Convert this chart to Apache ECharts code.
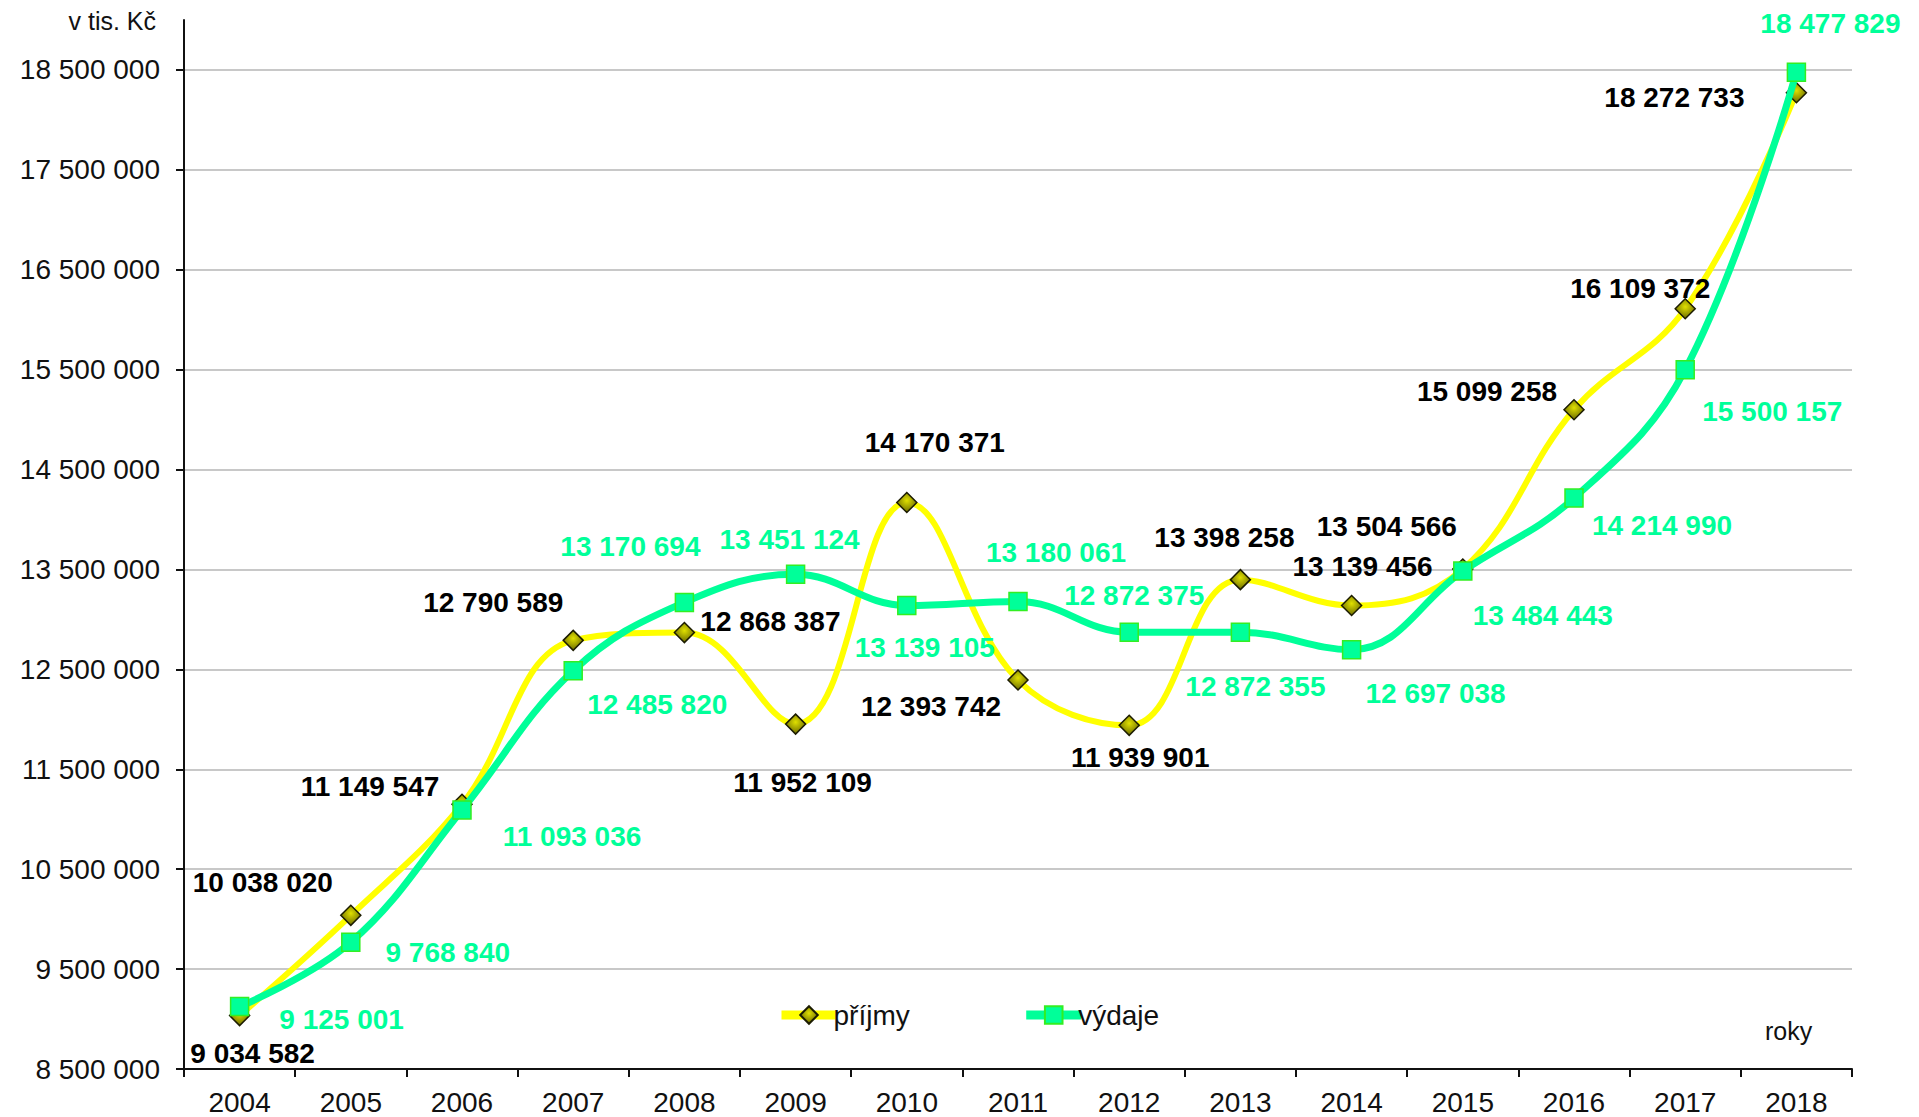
<!DOCTYPE html>
<html>
<head>
<meta charset="utf-8">
<title>příjmy a výdaje</title>
<script src="https://cdn.jsdelivr.net/npm/echarts@6/dist/echarts.min.js"></script>
<style>
  html, body { margin: 0; padding: 0; background: #fff; }
  #chart { width: 1919px; height: 1117px; }
</style>
</head>
<body>
<div id="chart"></div>
<script>
// data (v tis. Kč)
const years = ['2004', '2005', '2006', '2007', '2008', '2009', '2010', '2011', '2012', '2013', '2014', '2015', '2016', '2017', '2018'];
const prijmy = [9034582, 10038020, 11149547, 12790589, 12868387, 11952109, 14170371, 12393742, 11939901, 13398258, 13139456, 13504566, 15099258, 16109372, 18272733];
const vydaje = [9125001, 9768840, 11093036, 12485820, 13170694, 13451124, 13139105, 13180061, 12872375, 12872355, 12697038, 13484443, 14214990, 15500157, 18477829];
const yTicks = [8500000, 9500000, 10500000, 11500000, 12500000, 13500000, 14500000, 15500000, 16500000, 17500000, 18500000];

// where each value label sits relative to its point (px)
const prijmyLabelOffsets = [[13, 38], [-88, -33], [-92, -18], [-80, -38], [86, -11], [7, 58], [28, -60], [-87, 27], [11, 32], [-16, -42], [11, -39], [-76, -43], [-87, -18], [-45, -20], [-122, 5]];
const vydajeLabelOffsets = [[102, 13], [97, 10], [110, 27], [84, 34], [-54, -56], [-6, -35], [18, 42], [38, -49], [5, -37], [15, 54], [84, 44], [80, 44], [88, 27], [87, 42], [34, -49]];

const fmt = v => String(v).replace(/\B(?=(\d{3})+(?!\d))/g, ' ');
const FONT = 'Liberation Sans, Arial, sans-serif';
const GREEN = '#00ff99';

let myChart = echarts.init(document.getElementById('chart'), null, { renderer: 'svg' });
let option;

option = {
  animation: false,
  backgroundColor: '#fff',
  grid: { left: 184, right: 67, top: 20, bottom: 48 },
  legend: {
    left: 772,
    top: 996,
    itemWidth: 55,
    itemHeight: 22,
    itemGap: 112,
    lineStyle: { width: 9 },
    textStyle: { fontFamily: FONT, fontSize: 28, color: '#111', padding: [0, 0, 0, -8] },
    data: ['příjmy', 'výdaje']
  },
  xAxis: {
    type: 'category',
    data: years,
    boundaryGap: true,
    axisLine: { lineStyle: { color: '#111', width: 2 } },
    axisTick: { show: true, length: 8, lineStyle: { color: '#111', width: 2 } },
    axisLabel: { fontFamily: FONT, fontSize: 28, color: '#111', margin: 19 },
    splitLine: { show: false }
  },
  yAxis: {
    type: 'value',
    min: 8500000,
    max: 19000000,
    axisLine: { show: true, lineStyle: { color: '#111', width: 2 } },
    axisTick: { show: true, length: 8, customValues: yTicks, lineStyle: { color: '#111', width: 2 } },
    axisLabel: { customValues: yTicks, fontFamily: FONT, fontSize: 28, color: '#111', margin: 24, formatter: fmt },
    splitLine: { show: true, lineStyle: { color: '#c8c8c8', width: 2 } }
  },
  graphic: [
    { type: 'text', right: 1919 - 156, top: 8, style: { text: 'v tis. Kč', font: '25px ' + FONT, fill: '#111' } },
    { type: 'text', left: 1765, top: 1018, style: { text: 'roky', font: '25px ' + FONT, fill: '#111' } }
  ],
  series: [
    {
      name: 'příjmy',
      type: 'line',
      smooth: 0.4,
      symbol: 'diamond',
      symbolSize: 20,
      lineStyle: { color: '#ffff00', width: 6 },
      itemStyle: {
        color: {
          type: 'radial', x: 0.5, y: 0.4, r: 0.6,
          colorStops: [{ offset: 0, color: '#e0e000' }, { offset: 1, color: '#6a6a00' }]
        },
        borderColor: '#1c1c00',
        borderWidth: 1.5
      },
      label: {
        show: true,
        position: 'inside',
        fontFamily: FONT,
        fontSize: 28,
        fontWeight: 'bold',
        color: '#000',
        formatter: p => fmt(p.value)
      },
      data: prijmy.map((v, i) => ({ value: v, label: { offset: prijmyLabelOffsets[i] } })),
      z: 2
    },
    {
      name: 'výdaje',
      type: 'line',
      smooth: 0.4,
      symbol: 'rect',
      symbolSize: 18,
      lineStyle: { color: GREEN, width: 7 },
      itemStyle: { color: GREEN, borderColor: '#33ee22', borderWidth: 1.5 },
      label: {
        show: true,
        position: 'inside',
        fontFamily: FONT,
        fontSize: 28,
        fontWeight: 'bold',
        color: GREEN,
        formatter: p => fmt(p.value)
      },
      data: vydaje.map((v, i) => ({ value: v, label: { offset: vydajeLabelOffsets[i] } })),
      z: 3
    }
  ]
};

option && myChart.setOption(option);
</script>
</body>
</html>
